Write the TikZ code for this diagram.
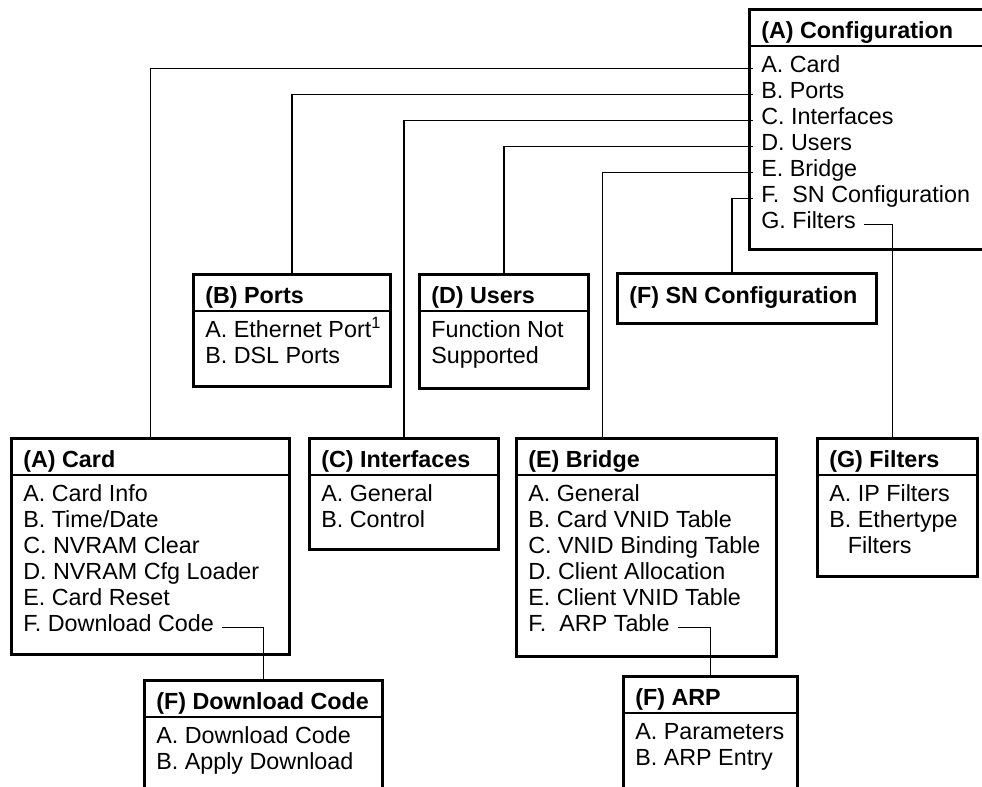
\documentclass[tikz,border=0pt]{standalone}
\usepackage{fontspec}
\setmainfont{Liberation Sans}
\usetikzlibrary{positioning,calc}

\tikzset{
  box/.style 2 args={draw, line width=2.2pt, anchor=north west, inner sep=0pt,
    minimum width=#1*0.75pt, minimum height=#2*0.75pt},
  ttl/.style={anchor=base west, inner xsep=6pt, inner ysep=0pt, font=\fontsize{17.5}{21}\selectfont\bfseries},
  itm/.style={anchor=base west, inner xsep=6pt, inner ysep=0pt},
  sep/.style={line width=1.5pt},
  link/.style={line width=0.9pt},
}

\begin{document}
\begin{tikzpicture}[x=0.75pt, y=-0.75pt, font=\fontsize{17.5}{21}\selectfont]
  \clip (0,0) rectangle (982,786);

  % frames
  \node[box={260}{240}] (cfg)    at (748,8)   {};
  \node[box={197}{112}] (ports)  at (192,273) {};
  \node[box={169}{114}] (users)  at (418,273) {};
  \node[box={259}{50}]  (sncfg)  at (616,272) {};
  \node[box={278}{216}] (card)   at (10,437)  {};
  \node[box={189}{111}] (ifc)    at (308,437) {};
  \node[box={260}{218}] (bridge) at (515,437) {};
  \node[box={160}{138}] (filt)   at (816,437) {};
  \node[box={238}{150}] (dl)     at (143,679) {};
  \node[box={174}{150}] (arp)    at (622,675) {};

  % titles
  \node[ttl] (cfg-t)    at ([shift={(5,30)}]cfg.north west)    {(A) Configuration};
  \node[ttl] (ports-t)  at ([shift={(5,30)}]ports.north west)  {(B) Ports};
  \node[ttl] (users-t)  at ([shift={(5,30)}]users.north west)  {(D) Users};
  \node[ttl] (sncfg-t)  at ([shift={(5,31)}]sncfg.north west)  {(F) SN Configuration};
  \node[ttl] (card-t)   at ([shift={(5,30)}]card.north west)   {(A) Card};
  \node[ttl] (ifc-t)    at ([shift={(5,30)}]ifc.north west)    {(C) Interfaces};
  \node[ttl] (bridge-t) at ([shift={(5,30)}]bridge.north west) {(E) Bridge};
  \node[ttl] (filt-t)   at ([shift={(5,30)}]filt.north west)   {(G) Filters};
  \node[ttl] (dl-t)     at ([shift={(5,30)}]dl.north west)     {(F) Download Code};
  \node[ttl] (arp-t)    at ([shift={(5,30)}]arp.north west)    {(F) ARP};

  \foreach \b in {cfg,ports,users,card,ifc,bridge,filt,dl,arp}
    \draw[sep] ([shift={(0,38)}]\b.north west) -- ([shift={(0,38)}]\b.north east);

  % menu items
  \foreach \t [count=\i] in {A. Card, B. Ports, C. Interfaces, D. Users, E. Bridge,
      F.\ \ SN Configuration, G. Filters}
    \node[itm] (cfg-\i) at ([shift={(5,38+26*\i)}]cfg.north west) {\t};
  \foreach \t [count=\i] in {A. Ethernet Port\textsuperscript{1}, B. DSL Ports}
    \node[itm] (ports-\i) at ([shift={(5,38+26*\i)}]ports.north west) {\t};
  \foreach \t [count=\i] in {Function Not, Supported}
    \node[itm] (users-\i) at ([shift={(5,38+26*\i)}]users.north west) {\t};
  \foreach \t [count=\i] in {A. Card Info, B. Time/Date, C. NVRAM Clear,
      D. NVRAM Cfg Loader, E. Card Reset, F. Download Code}
    \node[itm] (card-\i) at ([shift={(5,38+26*\i)}]card.north west) {\t};
  \foreach \t [count=\i] in {A. General, B. Control}
    \node[itm] (ifc-\i) at ([shift={(5,38+26*\i)}]ifc.north west) {\t};
  \foreach \t [count=\i] in {A. General, B. Card VNID Table, C. VNID Binding Table,
      D. Client Allocation, E. Client VNID Table, F.\ \ ARP Table}
    \node[itm] (bridge-\i) at ([shift={(5,38+26*\i)}]bridge.north west) {\t};
  \foreach \t [count=\i] in {A. IP Filters, B. Ethertype, \hspace*{14pt}Filters}
    \node[itm] (filt-\i) at ([shift={(5,38+26*\i)}]filt.north west) {\t};
  \foreach \t [count=\i] in {A. Download Code, B. Apply Download}
    \node[itm] (dl-\i) at ([shift={(5,38+26*\i)}]dl.north west) {\t};
  \foreach \t [count=\i] in {A. Parameters, B. ARP Entry}
    \node[itm] (arp-\i) at ([shift={(5,38+26*\i)}]arp.north west) {\t};

  % connectors
  \draw[link] (cfg-1.mid west) -| (card.north);
  \draw[link] (cfg-2.mid west) -| (ports.north);
  \draw[link] (cfg-3.mid west) -| (ifc.north);
  \draw[link] (cfg-4.mid west) -| (users.north);
  \draw[link] (cfg-5.mid west) -| ([shift={(-44,0)}]bridge.north);
  \draw[link] (cfg-6.mid west) -| ([shift={(-15,0)}]sncfg.north);
  \draw[link] (cfg-7.mid east) -| ([shift={(-5,0)}]filt.north);
  \draw[link] (card-6.mid east) -| (dl.north);
  \draw[link] (bridge-6.mid east) -| (arp.north);
\end{tikzpicture}
\end{document}
